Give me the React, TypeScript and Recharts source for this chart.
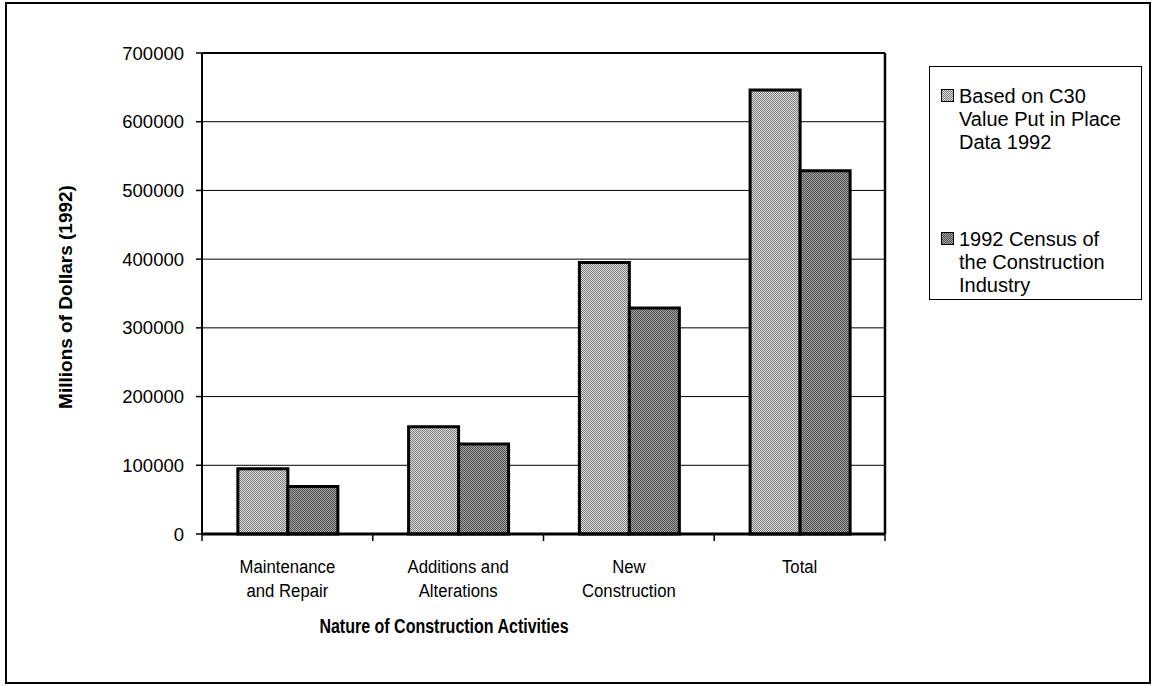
import React from 'react';
import { BarChart, Bar, XAxis, YAxis, CartesianGrid, Legend, ReferenceLine } from 'recharts';

const categories = ['Maintenance\nand Repair', 'Additions and\nAlterations', 'New\nConstruction', 'Total'];
const c30Values = [95000, 156000, 395000, 646000];
const censusValues = [69000, 131000, 329000, 528500];
const yTicks = [0, 100000, 200000, 300000, 400000, 500000, 600000, 700000];
const seriesKeys = ['c30', 'census'];
const seriesNames = ['Based on C30\nValue Put in Place\nData 1992', '1992 Census of\nthe Construction\nIndustry'];

const data = categories.map((category, i) => ({
  category,
  c30: c30Values[i],
  census: censusValues[i],
}));

const FONT = '"Liberation Sans", Arial, sans-serif';

const patternFor: Record<string, string> = {
  c30: 'url(#pat-c30)',
  census: 'url(#pat-census)',
};

// category labels are condensed in the original, ticks sit on the band edges
const CategoryTick = (props: any) => {
  const { x, y, payload, width, visibleTicksCount, index } = props;
  const half = (width || 683) / (visibleTicksCount || 4) / 2;
  const lines = String(payload.value).split('\n');
  return (
    <g>
      <line x1={x - half} x2={x - half} y1={y} y2={y + 7} stroke="#000" strokeWidth={1.5} />
      {index === visibleTicksCount - 1 && (
        <line x1={x + half} x2={x + half} y1={y} y2={y + 7} stroke="#000" strokeWidth={1.5} />
      )}
      <text
        transform={`translate(${x},${y}) scale(0.88,1)`}
        textAnchor="middle"
        fontSize={19}
        fill="#000"
        fontFamily={FONT}
      >
        {lines.map((l, i) => (
          <tspan key={i} x={0} y={39 + i * 24}>
            {l}
          </tspan>
        ))}
      </text>
    </g>
  );
};

const renderLegend = (props: any) => {
  const items = [...(props.payload || [])].sort(
    (a: any, b: any) => seriesKeys.indexOf(a.dataKey) - seriesKeys.indexOf(b.dataKey)
  );
  return (
    <div
      style={{
        boxSizing: 'border-box',
        width: 213,
        height: 234,
        border: '1px solid #000',
        background: '#fff',
        paddingTop: 18,
        paddingLeft: 11,
        fontFamily: FONT,
        fontSize: 20,
        lineHeight: '23px',
        color: '#000',
      }}
    >
      {items.map((entry: any, i: number) => (
        <div key={i} style={{ display: 'flex', alignItems: 'flex-start', marginBottom: 74 }}>
          <svg width={13} height={13} style={{ marginTop: 4, marginRight: 5, flex: 'none' }}>
            <rect x={0.5} y={0.5} width={12} height={12} fill={patternFor[entry.dataKey]} stroke="#000" strokeWidth={1} />
          </svg>
          <span style={{ whiteSpace: 'pre-line' }}>{entry.value}</span>
        </div>
      ))}
    </div>
  );
};

export default function App() {
  return (
    <div style={{ position: 'absolute', left: 0, top: 0, width: 1155, height: 686, background: '#fff' }}>
      <div
        style={{
          position: 'absolute',
          left: 5,
          top: 2,
          width: 1146,
          height: 682,
          boxSizing: 'border-box',
          border: '2px solid #000',
        }}
      />
      <div style={{ position: 'absolute', left: 0, top: 0 }}>
        <BarChart
          width={1155}
          height={686}
          data={data}
          margin={{ top: 53, right: 270, bottom: 0, left: 0 }}
          barCategoryGap="21%"
          barGap={0}
        >
          <defs>
            <pattern id="pat-c30" width="2" height="2" patternUnits="userSpaceOnUse">
              <rect width="2" height="2" fill="#dcdcdc" />
              <rect width="1" height="1" fill="#7e7e7e" />
              <rect x="1" y="1" width="1" height="1" fill="#7e7e7e" />
            </pattern>
            <pattern id="pat-census" width="2" height="2" patternUnits="userSpaceOnUse">
              <rect width="2" height="2" fill="#a4a4a4" />
              <rect width="1" height="1" fill="#4e4e4e" />
              <rect x="1" y="1" width="1" height="1" fill="#4e4e4e" />
            </pattern>
          </defs>
          <CartesianGrid vertical={false} stroke="#000" strokeWidth={1} />
          <CartesianGrid
            horizontal={false}
            stroke="#000"
            strokeWidth={2.5}
            verticalCoordinatesGenerator={({ offset }: any) => [offset.left + offset.width]}
          />
          <XAxis
            dataKey="category"
            height={152}
            interval={0}
            tickLine={false}
            tickSize={0}
            tickMargin={0}
            axisLine={{ stroke: '#000', strokeWidth: 3 }}
            tick={<CategoryTick />}
            label={{
              content: () => (
                <text
                  transform="translate(444,633) scale(0.8,1)"
                  textAnchor="middle"
                  fontSize={20}
                  fontWeight="bold"
                  fill="#000"
                  fontFamily={FONT}
                >
                  Nature of Construction Activities
                </text>
              ),
            }}
          />
          <YAxis
            width={202}
            domain={[0, 700000]}
            ticks={yTicks}
            interval={0}
            tickSize={6}
            tickMargin={12}
            axisLine={{ stroke: '#000', strokeWidth: 2 }}
            tickLine={{ stroke: '#000', strokeWidth: 1.5 }}
            tick={{ fill: '#000', fontSize: 18.5, fontFamily: FONT }}
            label={{
              content: () => (
                <text
                  transform="translate(72,297) rotate(-90)"
                  textAnchor="middle"
                  fontSize={19}
                  fontWeight="bold"
                  fill="#000"
                  fontFamily={FONT}
                >
                  Millions of Dollars (1992)
                </text>
              ),
            }}
          />
          <ReferenceLine y={700000} stroke="#000" strokeWidth={2} />
          <Bar dataKey="c30" name={seriesNames[0]} fill="url(#pat-c30)" stroke="#000" strokeWidth={3} isAnimationActive={false} />
          <Bar dataKey="census" name={seriesNames[1]} fill="url(#pat-census)" stroke="#000" strokeWidth={3} isAnimationActive={false} />
          <Legend
            layout="vertical"
            align="center"
            verticalAlign="middle"
            content={renderLegend}
            wrapperStyle={{ left: 929, top: 66, width: 213, height: 234 }}
          />
        </BarChart>
      </div>
    </div>
  );
}
